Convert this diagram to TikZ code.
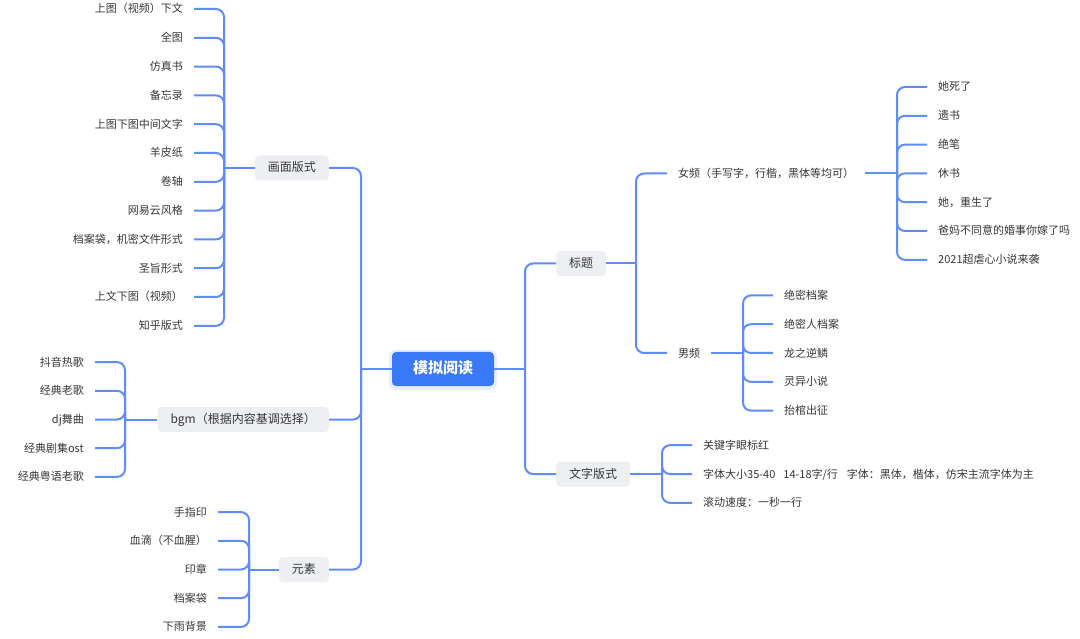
\documentclass[tikz,border=0pt]{standalone}
\usepackage{fontspec}
\setmainfont{Noto Sans CJK SC}
\definecolor{lineblue}{RGB}{96,140,250}
\definecolor{mainblue}{RGB}{58,121,246}
\definecolor{boxgray}{RGB}{237,239,242}
\definecolor{txt}{RGB}{55,55,55}
\tikzset{
  conn/.style={color=lineblue, draw=lineblue, line width=2pt, rounded corners=8pt},
  leaf/.style={font=\fontsize{11}{13}\selectfont, text=txt, inner xsep=11pt, inner ysep=3pt, text height=9.5pt, text depth=1.5pt},
  topic/.style={fill=boxgray, rounded corners=4pt, font=\fontsize{12}{14}\selectfont, text=txt, inner xsep=13pt, minimum height=25pt, text height=10pt, text depth=2pt},
  root/.style={fill=mainblue, rounded corners=4pt, text=white, font=\fontsize{15}{18}\selectfont\bfseries, minimum width=102pt, minimum height=34pt, text height=11pt, text depth=2pt},
  halo/.style={fill=mainblue!12, rounded corners=6pt, minimum width=108pt, minimum height=40pt}
}
\begin{document}
\begin{tikzpicture}[x=1pt,y=-1pt]
\fill[white] (0,0) rectangle (1080,639);
\useasboundingbox (0,0) rectangle (1080,639);

% root
\node[halo] (ch) at (443,370) {};
\node[root] (c) at (443,369) {模拟阅读};
\coordinate (lt) at (361,369);
\coordinate (rt) at (525,369);
\draw[conn] (c.west) -- (lt);
\draw[conn] (c.east) -- (rt);

% left topics
\node[topic, anchor=east] (hm) at (329,168) {画面版式};
\node[topic, anchor=east] (bgm) at (329,419.5) {bgm（根据内容基调选择）};
\node[topic, anchor=east] (ys) at (329,569.5) {元素};
\draw[conn] (lt) |- (hm.east);
\draw[conn] (lt) |- (bgm.east);
\draw[conn] (lt) |- (ys.east);

% 画面版式 children
\coordinate (hmj) at (224,168);
\draw[conn] (hmj) -- (hm.west);
\foreach \t [count=\i] in {上图（视频）下文,全图,仿真书,备忘录,上图下图中间文字,羊皮纸,卷轴,网易云风格,档案袋，机密文件形式,圣旨形式,上文下图（视频）,知乎版式}{
  \node[leaf, anchor=east] (h\i) at (194,{9+28.8*(\i-1)}) {\t};
  \draw[conn] (hmj) |- (h\i.east);
}

% bgm children
\coordinate (bgj) at (125,419.5);
\draw[conn] (bgj) -- (bgm.west);
\foreach \t [count=\i] in {抖音热歌,经典老歌,dj舞曲,经典剧集ost,经典粤语老歌}{
  \node[leaf, anchor=east] (b\i) at (95,{362.1+28.7*(\i-1)}) {\t};
  \draw[conn] (bgj) |- (b\i.east);
}

% 元素 children
\coordinate (ysj) at (249,569.5);
\draw[conn] (ysj) -- (ys.west);
\foreach \t [count=\i] in {手指印,血滴（不血腥）,印章,档案袋,下雨背景}{
  \node[leaf, anchor=east] (y\i) at (218,{512.1+28.7*(\i-1)}) {\t};
  \draw[conn] (ysj) |- (y\i.east);
}

% right topics
\node[topic, anchor=west] (bt) at (556,263.5) {标题};
\node[topic, anchor=west] (wz) at (556,474) {文字版式};
\draw[conn] (rt) |- (bt.west);
\draw[conn] (rt) |- (wz.west);

% 标题 children
\coordinate (btj) at (636,263.5);
\draw[conn] (btj) -- (bt.east);
\node[leaf, anchor=west] (nv) at (667,173.5) {女频（手写字，行楷，黑体等均可）};
\node[leaf, anchor=west] (nan) at (667,353) {男频};
\draw[conn] (btj) |- (nv.west);
\draw[conn] (btj) |- (nan.west);

% 女频 children
\coordinate (nvj) at (897,173.5);
\draw[conn] (nvj) -- (nv.east);
\foreach \t [count=\i] in {她死了,遗书,绝笔,休书,她，重生了,爸妈不同意的婚事你嫁了吗,2021超虐心小说来袭}{
  \node[leaf, anchor=west] (f\i) at (927,{87+28.8*(\i-1)}) {\t};
  \draw[conn] (nvj) |- (f\i.west);
}

% 男频 children
\coordinate (nnj) at (743,353);
\draw[conn] (nnj) -- (nan.east);
\foreach \t [count=\i] in {绝密档案,绝密人档案,龙之逆鳞,灵异小说,抬棺出征}{
  \node[leaf, anchor=west] (m\i) at (773,{295.4+28.8*(\i-1)}) {\t};
  \draw[conn] (nnj) |- (m\i.west);
}

% 文字版式 children
\coordinate (wzj) at (662,474);
\draw[conn] (wzj) -- (wz.east);
\node[leaf, anchor=west] (w1) at (692,445.2) {关键字眼标红};
\node[leaf, anchor=west] (w2) at (692,474) {字体大小35-40\hspace{8pt}14-18字/行\hspace{9pt}字体：黑体，楷体，仿宋主流字体为主};
\node[leaf, anchor=west] (w3) at (692,502.8) {滚动速度：一秒一行};
\draw[conn] (wzj) |- (w1.west);
\draw[conn] (wzj) |- (w2.west);
\draw[conn] (wzj) |- (w3.west);
\end{tikzpicture}
\end{document}
